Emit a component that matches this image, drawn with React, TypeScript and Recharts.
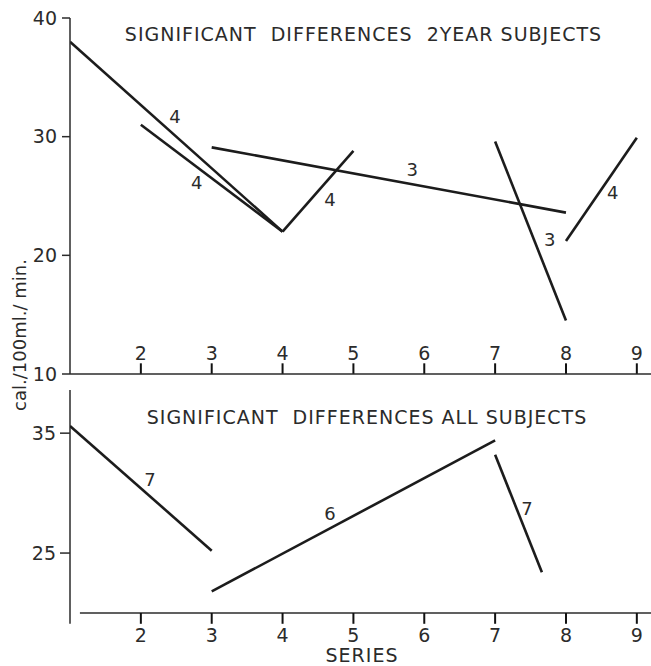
import React from "react";
import { ComposedChart, Line, Scatter, XAxis, YAxis, ReferenceLine } from "recharts";

// series numbers along the x axis
const seriesTicks = [2, 3, 4, 5, 6, 7, 8, 9];
const twoYearTicks = [10, 20, 30, 40];
const allTicks = [25, 35];

// 2 year subjects, one array per significant difference
const twoYearA = [{ series: 1, cal: 38 }, { series: 4, cal: 22 }];
const twoYearB = [{ series: 2, cal: 31 }, { series: 4, cal: 22 }];
const twoYearC = [{ series: 4, cal: 22 }, { series: 5, cal: 28.8 }];
const twoYearD = [{ series: 3, cal: 29.1 }, { series: 8, cal: 23.6 }];
const twoYearE = [{ series: 7, cal: 29.6 }, { series: 8, cal: 14.5 }];
const twoYearF = [{ series: 8, cal: 21.2 }, { series: 9, cal: 29.9 }];
const twoYearCounts = [
  { series: 2.48, cal: 31.7, n: "4" },
  { series: 2.79, cal: 26.1, n: "4" },
  { series: 4.67, cal: 24.7, n: "4" },
  { series: 5.83, cal: 27.2, n: "3" },
  { series: 7.77, cal: 21.3, n: "3" },
  { series: 8.66, cal: 25.3, n: "4" },
];

// all subjects
const allA = [{ series: 1, cal: 35.6 }, { series: 3, cal: 25.2 }];
const allB = [{ series: 3, cal: 21.8 }, { series: 7, cal: 34.4 }];
const allC = [{ series: 7, cal: 33.2 }, { series: 7.66, cal: 23.4 }];
const allCounts = [
  { series: 2.13, cal: 31.1, n: "7" },
  { series: 4.67, cal: 28.3, n: "6" },
  { series: 7.45, cal: 28.75, n: "7" },
];

const FONT = "'DejaVu Sans', sans-serif";
const INK = "#2b2b2b";
const LINE = "#1c1c1c";
const X_DOMAIN: [number, number] = [1, 9.2];

// label above the axis (y = axis line)
function UpTick({ x, y, payload }: any) {
  return (
    <text x={x} y={y - 14} textAnchor="middle" fill={INK} fontSize={19} fontFamily={FONT}>
      {payload.value}
    </text>
  );
}

// label below the axis (y = axis line)
function DownTick({ x, y, payload }: any) {
  return (
    <text x={x} y={y + 29} textAnchor="middle" fill={INK} fontSize={19} fontFamily={FONT}>
      {payload.value}
    </text>
  );
}

function CountLabel({ cx, cy, payload }: any) {
  return (
    <text x={cx} y={cy} dy="0.36em" textAnchor="middle" fill={INK} fontSize={18} fontFamily={FONT}>
      {payload.n}
    </text>
  );
}

function seg(data: { series: number; cal: number }[], key: string) {
  return (
    <Line
      key={key}
      data={data}
      dataKey="cal"
      type="linear"
      stroke={LINE}
      strokeWidth={2.6}
      dot={false}
      activeDot={false}
      isAnimationActive={false}
    />
  );
}

// short tick marks on the series axis, drawn from the tick list
function tickMarks(base: number, to: number) {
  return seriesTicks.map((t) => (
    <ReferenceLine
      key={`tick-${t}`}
      segment={[{ x: t, y: base }, { x: t, y: to }]}
      stroke="#111"
      strokeWidth={2}
      ifOverflow="visible"
    />
  ));
}

const yTick = { fill: INK, fontSize: 19, fontFamily: FONT };
const axisStroke = { stroke: INK, strokeWidth: 1.5 };
const titleStyle: React.CSSProperties = {
  position: "absolute",
  fontSize: 19,
  letterSpacing: 1,
  whiteSpace: "pre",
  textAlign: "center",
  lineHeight: "18px",
};

export default function App() {
  return (
    <div style={{ position: "absolute", left: 0, top: 0, width: 651, height: 666, background: "#fff", fontFamily: FONT, color: INK }}>
      <div style={{ position: "absolute", left: 0, top: 0 }}>
        <ComposedChart width={651} height={392} margin={{ top: 18, right: 0, bottom: 12, left: 0 }}>
          <XAxis
            type="number"
            dataKey="series"
            domain={X_DOMAIN}
            ticks={seriesTicks}
            interval={0}
            allowDataOverflow
            height={6}
            tickSize={0}
            tickMargin={0}
            tickLine={false}
            tick={<UpTick />}
            axisLine={axisStroke}
          />
          <YAxis
            type="number"
            domain={[10, 40]}
            ticks={twoYearTicks}
            interval={0}
            allowDataOverflow
            width={70}
            tickSize={8}
            tickMargin={5}
            tick={yTick}
            tickLine={axisStroke}
            axisLine={axisStroke}
          />
          {tickMarks(10, 10.9)}
          {seg(twoYearA, "a")}
          {seg(twoYearB, "b")}
          {seg(twoYearC, "c")}
          {seg(twoYearD, "d")}
          {seg(twoYearE, "e")}
          {seg(twoYearF, "f")}
          <Scatter data={twoYearCounts} dataKey="cal" shape={<CountLabel />} isAnimationActive={false} />
        </ComposedChart>
      </div>
      <div style={{ position: "absolute", left: 0, top: 384 }}>
        <ComposedChart width={651} height={282} margin={{ top: 6, right: 0, bottom: 23, left: 0 }}>
          <XAxis
            type="number"
            dataKey="series"
            domain={X_DOMAIN}
            ticks={seriesTicks}
            interval={0}
            allowDataOverflow
            height={30}
            tickSize={0}
            tickMargin={0}
            tickLine={false}
            tick={<DownTick />}
            axisLine={false}
          />
          <YAxis
            type="number"
            domain={[20, 38.6]}
            ticks={allTicks}
            interval={0}
            allowDataOverflow
            width={70}
            tickSize={10}
            tickMargin={4}
            tick={yTick}
            tickLine={axisStroke}
            axisLine={false}
          />
          <ReferenceLine
            segment={[{ x: 1, y: 19.1 }, { x: 1, y: 38.6 }]}
            stroke={INK}
            strokeWidth={1.5}
            ifOverflow="visible"
          />
          <ReferenceLine
            segment={[{ x: 1.14, y: 20 }, { x: 9.2, y: 20 }]}
            stroke={INK}
            strokeWidth={1.5}
            ifOverflow="visible"
          />
          {tickMarks(20, 19.1)}
          {seg(allA, "a")}
          {seg(allB, "b")}
          {seg(allC, "c")}
          <Scatter data={allCounts} dataKey="cal" shape={<CountLabel />} isAnimationActive={false} />
        </ComposedChart>
      </div>
      <div style={{ ...titleStyle, left: 117, top: 25, width: 493 }}>
        {"SIGNIFICANT  DIFFERENCES  2YEAR SUBJECTS"}
      </div>
      <div style={{ ...titleStyle, left: 142, top: 408, width: 450 }}>
        {"SIGNIFICANT  DIFFERENCES ALL SUBJECTS"}
      </div>
      <div style={{ ...titleStyle, left: 262, top: 646, width: 200 }}>
        SERIES
      </div>
      <div
        style={{
          position: "absolute",
          left: 20,
          top: 335,
          fontSize: 18,
          whiteSpace: "nowrap",
          lineHeight: "20px",
          transform: "translate(-50%, -50%) rotate(-90deg)",
        }}
      >
        cal./100ml./ min.
      </div>
    </div>
  );
}
